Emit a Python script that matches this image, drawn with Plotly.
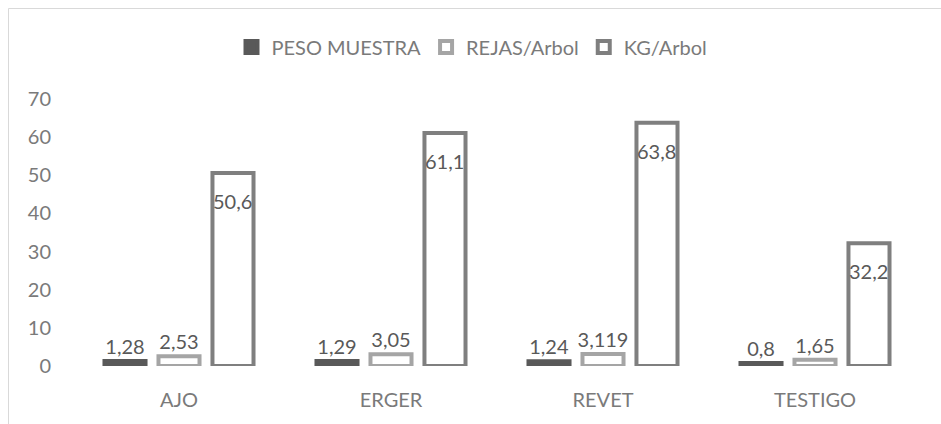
import plotly.graph_objects as go

categories = ["AJO", "ERGER", "REVET", "TESTIGO"]
peso_muestra = [1.28, 1.29, 1.24, 0.8]
rejas_arbol = [2.53, 3.05, 3.119, 1.65]
kg_arbol = [50.6, 61.1, 63.8, 32.2]
y_ticks = [0, 10, 20, 30, 40, 50, 60, 70]

def fmt(vals):
    return [str(v).replace(".", ",") for v in vals]

FONT = "Lato"
TXT = "#595959"
AX = "#7A7A7A"
FS = 20

fig = go.Figure()
fig.add_trace(go.Bar(
    name="PESO MUESTRA", x=categories, y=peso_muestra,
    text=fmt(peso_muestra), textposition="outside", constraintext="none", textangle=0,
    textfont=dict(color=TXT, size=FS, family=FONT),
    marker=dict(color="#595959", line=dict(color="#595959", width=4)),
    cliponaxis=False,
))
fig.add_trace(go.Bar(
    name="REJAS/Arbol", x=categories, y=rejas_arbol,
    text=fmt(rejas_arbol), textposition="outside", constraintext="none", textangle=0,
    textfont=dict(color=TXT, size=FS, family=FONT),
    marker=dict(color="white", line=dict(color="#A5A5A5", width=4)),
    cliponaxis=False,
))
fig.add_trace(go.Bar(
    name="KG/Arbol", x=categories, y=kg_arbol,
    marker=dict(color="white", line=dict(color="#7F7F7F", width=4)),
    cliponaxis=False,
))

L, R, T, B = 73, 20, 99, 58
W, H = 941, 424
pw, ph = W - L - R, H - T - B
BARGAP = 0.236
slot = (pw / len(categories)) * (1 - BARGAP) / 3

# KG/Arbol labels at the inside end of the third bar of each group
for c, v, t in zip(categories, kg_arbol, fmt(kg_arbol)):
    fig.add_annotation(x=c, y=v, text=t, showarrow=False, xshift=slot,
                       yanchor="top", yshift=-14,
                       font=dict(color=TXT, size=FS, family=FONT))

def px(x):
    return (x - L) / pw

def py(y):
    return (H - B - y) / ph

fig.update_layout(
    width=W, height=H,
    margin=dict(l=L, r=R, t=T, b=B),
    paper_bgcolor="white", plot_bgcolor="white",
    barmode="group", bargap=BARGAP, bargroupgap=0.24,
    font=dict(family=FONT, size=FS, color=AX),
    legend=dict(orientation="h", x=px(472), xanchor="center", y=py(47), yanchor="middle",
                font=dict(size=FS, color=AX, family=FONT), traceorder="normal"),
    xaxis=dict(showgrid=False, showline=False, zeroline=False, ticks="",
               tickfont=dict(size=FS, color=AX), ticklabelstandoff=20),
    yaxis=dict(range=[0, 70], tickvals=y_ticks, showgrid=False, showline=False,
               zeroline=False, ticks="", tickfont=dict(size=FS, color=AX),
               ticklabelstandoff=21),
    shapes=[dict(type="rect", xref="paper", yref="paper",
                 x0=px(8.5), y0=py(H + 20), x1=px(W + 20), y1=py(8.5),
                 line=dict(color="#D9D9D9", width=1), fillcolor="rgba(0,0,0,0)")],
)

fig.write_html("out.html")
